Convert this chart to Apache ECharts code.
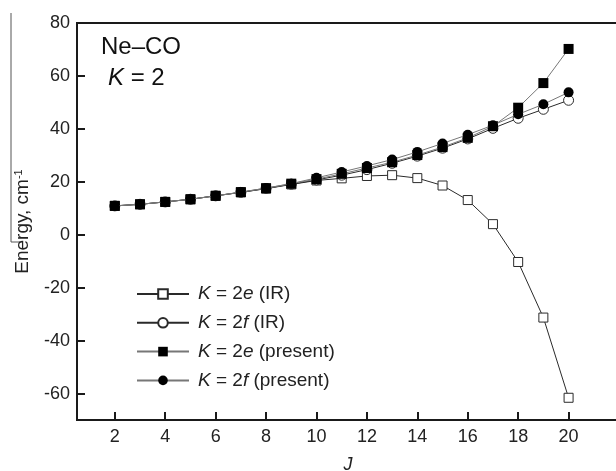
<!DOCTYPE html>
<html>
<head>
    <meta charset="UTF-8">
    <title>Ne-CO K=2</title>
    <script src="https://cdn.jsdelivr.net/npm/echarts@6/dist/echarts.min.js"></script>
    <style>
        html, body { margin: 0; padding: 0; background: #fff; }
        #chart { width: 616px; height: 471px; }
    </style>
</head>
<body>
<div id="chart"></div>
<script type="text/javascript">
    // J values and energies (cm-1)
    var J = [2, 3, 4, 5, 6, 7, 8, 9, 10, 11, 12, 13, 14, 15, 16, 17, 18, 19, 20];
    var e2IR = [10.9, 11.5, 12.4, 13.4, 14.7, 16.0, 17.4, 19.0, 20.5, 21.3, 22.2, 22.5, 21.4, 18.6, 13.1, 4.0, -10.3, -31.3, -61.6];
    var f2IR = [10.9, 11.5, 12.4, 13.4, 14.7, 16.0, 17.5, 19.1, 20.7, 22.5, 24.6, 27.0, 29.7, 32.7, 36.2, 40.2, 44.0, 47.4, 50.8];
    var e2Present = [10.9, 11.5, 12.4, 13.4, 14.7, 16.1, 17.6, 19.3, 21.0, 23.0, 25.2, 27.4, 30.1, 33.1, 36.6, 41.0, 48.0, 57.3, 70.2];
    var f2Present = [10.9, 11.5, 12.4, 13.4, 14.7, 16.1, 17.6, 19.3, 21.5, 23.7, 26.0, 28.4, 31.3, 34.5, 37.8, 41.4, 45.5, 49.3, 53.8];
    var xTicks = [2, 4, 6, 8, 10, 12, 14, 16, 18, 20];
    var yTicks = [-60, -40, -20, 0, 20, 40, 60, 80];

    function pairs(ys) {
        return J.map(function (j, i) { return [j, ys[i]]; });
    }

    var font = '"Liberation Sans", Arial, sans-serif';
    var axisColor = '#1a1a1a';

    var chart = echarts.init(document.getElementById('chart'));

    var option = {
        animation: false,
        textStyle: { fontFamily: font },
        grid: {
            left: 77, top: 23, width: 542, height: 397,
            outerBoundsMode: 'none',
            containLabel: false,
            show: true, borderColor: axisColor, borderWidth: 2
        },
        legend: {
            orient: 'vertical',
            left: 131,
            top: 279,
            itemWidth: 52,
            itemHeight: 12,
            itemGap: 8.8,
            data: ['e2IR', 'f2IR', 'e2Present', 'f2Present'],
            formatter: function (name) {
                var map = {
                    e2IR: '{i|K} = 2{i|e} (IR)',
                    f2IR: '{i|K} = 2{i|f} (IR)',
                    e2Present: '{i|K} = 2{i|e} (present)',
                    f2Present: '{i|K} = 2{i|f} (present)'
                };
                return map[name];
            },
            textStyle: {
                fontFamily: font, fontSize: 19, color: '#222', lineHeight: 20,
                padding: [0, 0, 0, 4],
                rich: { i: { fontStyle: 'italic', fontSize: 19, fontFamily: font, color: '#222' } }
            }
        },
        xAxis: {
            type: 'value',
            min: 0.5,
            max: 22,
            name: 'J',
            nameLocation: 'middle',
            nameGap: 36,
            nameTextStyle: { fontStyle: 'italic', fontSize: 18, color: '#222', fontFamily: font },
            splitLine: { show: false },
            axisLine: { show: true, onZero: false, lineStyle: { color: axisColor, width: 2 } },
            axisTick: { show: true, inside: true, length: 8, lineStyle: { color: axisColor, width: 2 }, customValues: xTicks },
            axisLabel: { fontSize: 18, color: '#222', margin: 8, customValues: xTicks }
        },
        yAxis: {
            type: 'value',
            min: -70,
            max: 80,
            name: '{a|Energy, cm}{s|-1}',
            nameLocation: 'middle',
            nameGap: 45,
            nameTextStyle: {
                fontSize: 19, color: '#222', fontFamily: font,
                rich: {
                    a: { fontSize: 19, color: '#222', fontFamily: font },
                    s: { fontSize: 11, color: '#222', fontFamily: font, verticalAlign: 'top' }
                }
            },
            splitLine: { show: false },
            axisLine: { show: true, onZero: false, lineStyle: { color: axisColor, width: 2 } },
            axisTick: { show: true, inside: true, length: 8, lineStyle: { color: axisColor, width: 2 }, customValues: yTicks },
            axisLabel: { fontSize: 18, color: '#222', margin: 7, customValues: yTicks }
        },
        graphic: [
            {
                type: 'text', left: 101, top: 35,
                style: { text: 'Ne\u2013CO', font: '24px ' + font, fill: '#111' }
            },
            {
                type: 'text', left: 108, top: 66,
                style: {
                    text: '{i|K} = 2',
                    font: '24px ' + font, fill: '#111',
                    rich: { i: { fontStyle: 'italic', fontSize: 24, fontFamily: font, fill: '#111' } }
                }
            },
            {
                type: 'polyline',
                shape: { points: [[11, 13], [11, 242], [20, 242]] },
                style: { stroke: '#555', lineWidth: 1, fill: null }
            }
        ],
        series: [
            {
                name: 'e2IR', type: 'line', data: pairs(e2IR),
                symbol: 'rect', symbolSize: 9,
                lineStyle: { color: '#2a2a2a', width: 1 },
                itemStyle: { color: '#fff', borderColor: '#2a2a2a', borderWidth: 1 },
                z: 2
            },
            {
                name: 'f2IR', type: 'line', data: pairs(f2IR),
                symbol: 'circle', symbolSize: 10,
                lineStyle: { color: '#2a2a2a', width: 1 },
                itemStyle: { color: '#fff', borderColor: '#2a2a2a', borderWidth: 1 },
                z: 3
            },
            {
                name: 'e2Present', type: 'line', data: pairs(e2Present),
                symbol: 'rect', symbolSize: 10,
                lineStyle: { color: '#777', width: 1 },
                itemStyle: { color: '#000', borderColor: '#000', borderWidth: 0 },
                z: 4
            },
            {
                name: 'f2Present', type: 'line', data: pairs(f2Present),
                symbol: 'circle', symbolSize: 10,
                lineStyle: { color: '#777', width: 1 },
                itemStyle: { color: '#000', borderColor: '#000', borderWidth: 0 },
                z: 5
            }
        ]
    };

    chart.setOption(option);
</script>
</body>
</html>
